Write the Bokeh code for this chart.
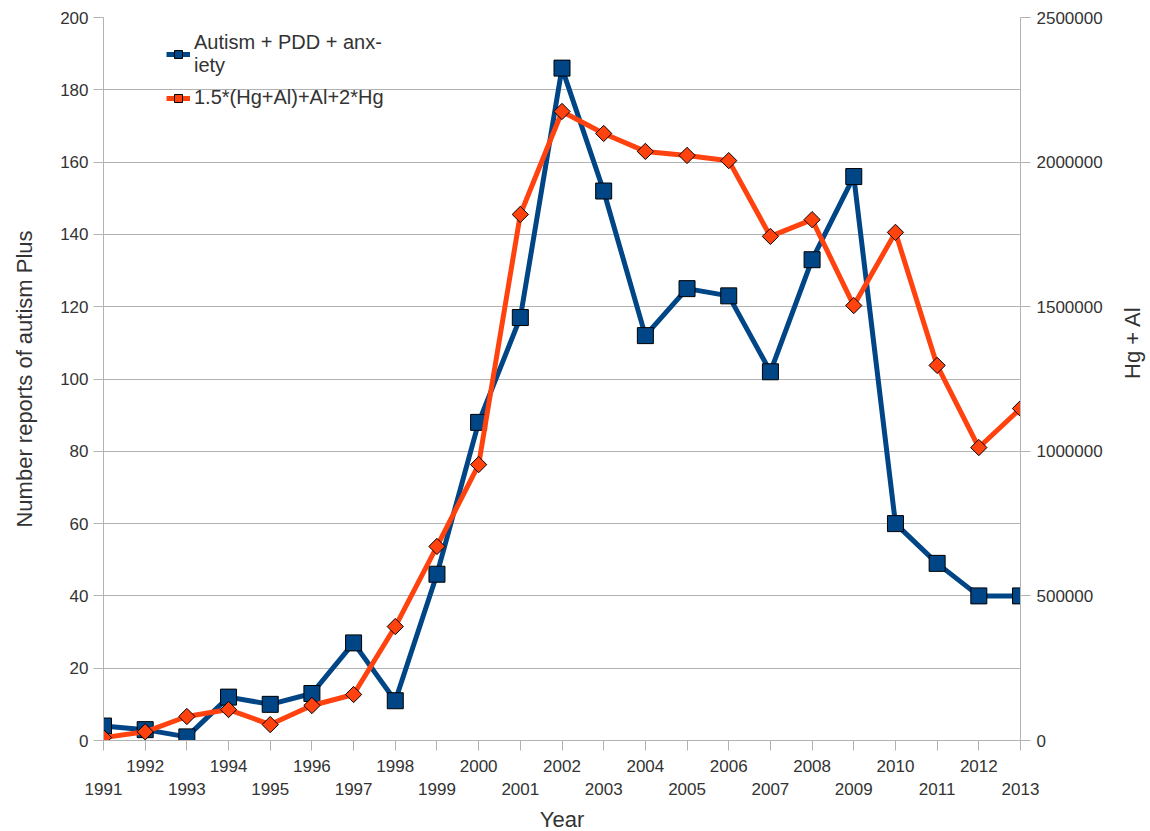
from bokeh.plotting import figure
from bokeh.models import (Range1d, LinearAxis, FixedTicker, BasicTickFormatter,
                          Legend, LegendItem)
from bokeh.embed import file_html
from bokeh.resources import INLINE
import math

# ---- data ----
years = list(range(1991, 2014))
autism_pdd_anxiety = [4, 3, 1, 12, 10, 13, 27, 11, 46, 88, 117, 186, 152, 112,
                      125, 123, 102, 133, 156, 60, 49, 40, 40]
hg_al_index = [10000, 30000, 83000, 107000, 55000, 121000, 159000, 394000,
               671000, 954000, 1819000, 2175000, 2099000, 2037000, 2023000,
               2005000, 1743000, 1801000, 1504000, 1757000, 1297000, 1013000,
               1148000]
left_ticks = list(range(0, 201, 20))
right_ticks = list(range(0, 2500001, 500000))
series_names = ["Autism + PDD + anx-\niety", "1.5*(Hg+Al)+Al+2*Hg"]
x_title = "Year"
left_title = "Number reports of autism Plus"
right_title = "Hg + Al"

BLUE = "#004586"
ORANGE = "#ff420e"
GRID = "#b3b3b3"
TXT = "#333333"
FONT = "Liberation Sans"

p = figure(frame_width=917, frame_height=723, output_backend="svg",
           toolbar_location=None,
           x_range=Range1d(years[0], years[-1]), y_range=Range1d(0, 200),
           min_border_left=103, min_border_right=130, min_border_top=17,
           min_border_bottom=90, background_fill_color="white",
           border_fill_color="white")
p.outline_line_color = None
p.extra_y_ranges = {"right": Range1d(0, 2500000)}

# grid
p.xgrid.visible = False
p.ygrid.ticker = FixedTicker(ticks=left_ticks)
p.ygrid.grid_line_color = GRID
p.ygrid.grid_line_width = 1

def style_axis(ax):
    ax.axis_line_color = GRID
    ax.axis_line_width = 1
    ax.major_tick_line_color = GRID
    ax.major_tick_in = 0
    ax.major_tick_out = 10
    ax.minor_tick_line_color = None
    ax.major_label_text_font = FONT
    ax.major_label_text_font_size = "17px"
    ax.major_label_text_color = TXT
    ax.axis_label_text_font = FONT
    ax.axis_label_text_font_size = "22px"
    ax.axis_label_text_font_style = "normal"
    ax.axis_label_text_color = TXT
    ax.axis_label_text_line_height = 1.0

# x axis
xa = p.xaxis[0]
style_axis(xa)
xa.ticker = FixedTicker(ticks=years)
xa.major_label_overrides = {y: (str(y) if y % 2 == 0 else "\n" + str(y)) for y in years}
xa.major_label_text_line_height = 1.25
xa.major_label_standoff = 6
xa.axis_label = x_title
xa.axis_label_standoff = 5

# left axis
ya = p.yaxis[0]
style_axis(ya)
ya.ticker = FixedTicker(ticks=left_ticks)
ya.major_label_standoff = 5
ya.axis_label = left_title
ya.axis_label_standoff = 20

# right axis
ra = LinearAxis(y_range_name="right", ticker=FixedTicker(ticks=right_ticks),
                formatter=BasicTickFormatter(use_scientific=False))
style_axis(ra)
ra.major_label_standoff = 6
ra.axis_label = right_title
ra.axis_label_standoff = 27
ra.axis_label_orientation = math.pi / 2
p.add_layout(ra, "right")

# series
l1 = p.line(years, autism_pdd_anxiety, line_color=BLUE, line_width=5)
s1 = p.scatter(years, autism_pdd_anxiety, marker="square", size=16,
               fill_color=BLUE, line_color="black", line_width=1)
l2 = p.line(years, hg_al_index, y_range_name="right", line_color=ORANGE, line_width=5)
s2 = p.scatter(years, hg_al_index, y_range_name="right", marker="square",
               angle=math.pi / 4, size=11.5, fill_color=ORANGE, line_color="black",
               line_width=1)

legend = Legend(items=[LegendItem(label=series_names[0], renderers=[l1, s1]),
                       LegendItem(label=series_names[1], renderers=[l2, s2])],
                location=(63, 631), label_text_font=FONT,
                label_text_font_size="20px", label_text_color=TXT,
                border_line_color=None, background_fill_alpha=0,
                glyph_width=24, glyph_height=20, label_standoff=4,
                spacing=9, padding=4, margin=0)
p.add_layout(legend)

open("out.html", "w").write(file_html(p, INLINE))
